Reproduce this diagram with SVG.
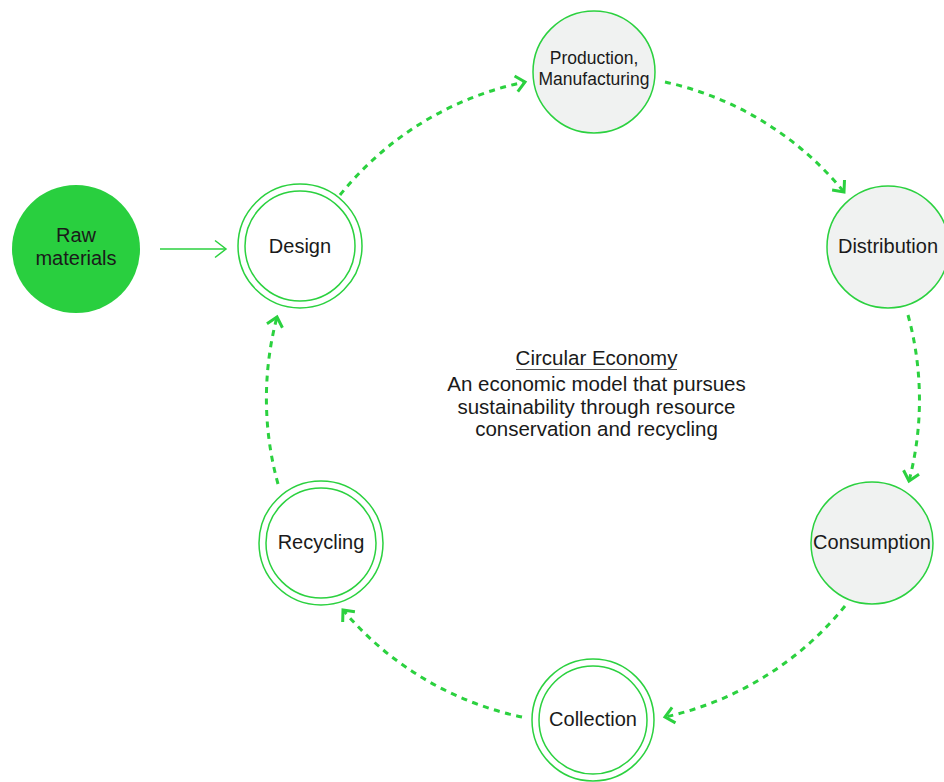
<svg xmlns="http://www.w3.org/2000/svg" width="944" height="782" viewBox="0 0 944 782">
<style>
text{font-family:"Liberation Sans",Arial,sans-serif;fill:#1a1a1a;text-anchor:middle}
.n{font-size:20px}
.c{font-size:20.5px}
.p{font-size:17.5px}
.solid{fill:#f0f2f1;stroke:#2bd13f;stroke-width:1.5}
.dbl{fill:#fff;stroke:#2bd13f;stroke-width:1.5}
.in{fill:none;stroke:#2bd13f;stroke-width:1.5}
.flow{fill:none;stroke:#2bd13f;stroke-width:3;stroke-dasharray:6 5.5}
</style>
<defs>
<marker id="ah" viewBox="-12 -12 24 24" markerWidth="24" markerHeight="24" refX="0" refY="0" orient="auto" markerUnits="userSpaceOnUse">
<path d="M -9 -8 L 0 0 L -9 8" fill="none" stroke="#2bd13f" stroke-width="3" stroke-dasharray="none"/>
</marker>
<marker id="ah2" viewBox="-14 -12 16 24" markerWidth="16" markerHeight="24" refX="0" refY="0" orient="auto" markerUnits="userSpaceOnUse">
<path d="M -11 -8.5 L 0 0 L -11 8.5" fill="none" stroke="#2bd13f" stroke-width="1.5"/>
</marker>
</defs>
<rect width="944" height="782" fill="#fff"/>
<g id="connectors">
<line x1="160" y1="249" x2="226" y2="249" stroke="#2bd13f" stroke-width="1.5" marker-end="url(#ah2)"/>
<path class="flow" d="M 340 195 A 320 320 0 0 1 525 82" marker-end="url(#ah)"/>
<path class="flow" d="M 665 82 A 320 320 0 0 1 844 192" marker-end="url(#ah)"/>
<path class="flow" d="M 908 315 A 320 320 0 0 1 909 481" marker-end="url(#ah)"/>
<path class="flow" d="M 845 606 A 320 320 0 0 1 665 717" marker-end="url(#ah)"/>
<path class="flow" d="M 522 717 A 320 320 0 0 1 343 610" marker-end="url(#ah)"/>
<path class="flow" d="M 278 484 A 320 320 0 0 1 277 317" marker-end="url(#ah)"/>
</g>
<g id="raw-materials">
<circle cx="76" cy="249" r="64" fill="#29cf3f"/>
<text class="n" x="76" y="242">Raw</text>
<text class="n" x="76" y="265">materials</text>
</g>
<g id="design">
<circle class="dbl" cx="300" cy="246" r="62"/>
<circle class="in" cx="300" cy="246" r="55"/>
<text class="n" x="300" y="253">Design</text>
</g>
<g id="production">
<circle class="solid" cx="594" cy="72" r="61"/>
<text class="p" x="594" y="64">Production,</text>
<text class="p" x="594" y="85">Manufacturing</text>
</g>
<g id="distribution">
<circle class="solid" cx="888" cy="247" r="61"/>
<text class="n" x="888" y="253">Distribution</text>
</g>
<g id="consumption">
<circle class="solid" cx="872" cy="543" r="61"/>
<text class="n" x="872" y="549">Consumption</text>
</g>
<g id="collection">
<circle class="dbl" cx="593" cy="720" r="61"/>
<circle class="in" cx="593" cy="720" r="54"/>
<text class="n" x="593" y="726">Collection</text>
</g>
<g id="recycling">
<circle class="dbl" cx="321" cy="543" r="62"/>
<circle class="in" cx="321" cy="543" r="55"/>
<text class="n" x="321" y="549">Recycling</text>
</g>
<g id="center-label">
<text class="c" x="596.5" y="365">Circular Economy</text>
<line x1="516" y1="369.5" x2="677" y2="369.5" stroke="#555" stroke-width="1"/>
<text class="c" x="596.5" y="391">An economic model that pursues</text>
<text class="c" x="596.5" y="414">sustainability through resource</text>
<text class="c" x="596.5" y="436">conservation and recycling</text>
</g>
</svg>
